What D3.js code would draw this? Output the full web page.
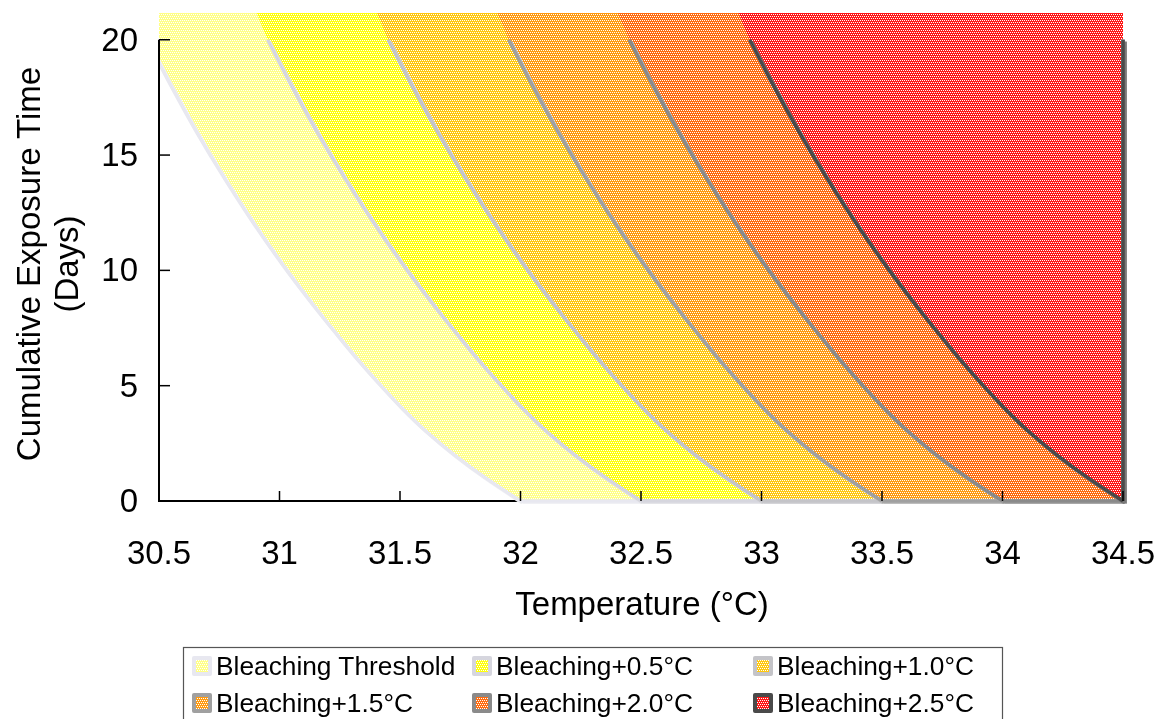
<!DOCTYPE html>
<html>
<head>
<meta charset="utf-8">
<script src="https://cdn.jsdelivr.net/npm/d3@7"></script>
<style>
  html, body { margin: 0; padding: 0; background: #ffffff; }
  #wrap { position: relative; width: 1157px; height: 719px; }
  #wrap canvas, #wrap svg { position: absolute; left: 0; top: 0; display: block; }
  text { font-family: "Liberation Sans", Arial, sans-serif; fill: #000; }
</style>
</head>
<body>
<div id="wrap">
  <canvas id="fills" width="1157" height="719"></canvas>
  <svg id="chart" width="1157" height="719"></svg>
</div>
<script>
// Cumulative exposure (days) at which each curve's temperature is read
const days = [0, 1, 2, 3, 4, 5, 6, 7, 8, 9, 10, 12, 14, 16, 18, 20, 21.16];

// Temperature (°C) of each bleaching curve at the exposure times above
const tempThreshold = [32.0, 31.855, 31.725, 31.61, 31.51, 31.42, 31.335, 31.255, 31.177, 31.102, 31.03, 30.895, 30.771, 30.656, 30.55, 30.451, 30.405];
const tempPlus05   = [32.5, 32.355, 32.225, 32.11, 32.01, 31.92, 31.835, 31.755, 31.677, 31.602, 31.53, 31.395, 31.271, 31.156, 31.05, 30.951, 30.905];
const tempPlus10   = [33.0, 32.855, 32.725, 32.61, 32.51, 32.42, 32.335, 32.255, 32.177, 32.102, 32.03, 31.895, 31.771, 31.656, 31.55, 31.451, 31.405];
const tempPlus15   = [33.5, 33.355, 33.225, 33.11, 33.01, 32.92, 32.835, 32.755, 32.677, 32.602, 32.53, 32.395, 32.271, 32.156, 32.05, 31.951, 31.905];
const tempPlus20   = [34.0, 33.855, 33.725, 33.61, 33.51, 33.42, 33.335, 33.255, 33.177, 33.102, 33.03, 32.895, 32.771, 32.656, 32.55, 32.451, 32.405];
const tempPlus25   = [34.5, 34.355, 34.225, 34.11, 34.01, 33.92, 33.835, 33.755, 33.677, 33.602, 33.53, 33.395, 33.271, 33.156, 33.05, 32.951, 32.905];

const seriesNames = ["Bleaching Threshold", "Bleaching+0.5°C", "Bleaching+1.0°C",
                     "Bleaching+1.5°C", "Bleaching+2.0°C", "Bleaching+2.5°C"];
const seriesTemps = [tempThreshold, tempPlus05, tempPlus10, tempPlus15, tempPlus20, tempPlus25];

const xTicks = [30.5, 31, 31.5, 32, 32.5, 33, 33.5, 34, 34.5];
const yTicks = [0, 5, 10, 15, 20];
const xTickLabels = ["30.5", "31", "31.5", "32", "32.5", "33", "33.5", "34", "34.5"];

// Styling
const fillColors = ["#ffff88", "#ffff10", "#ffc810", "#ff9a10", "#ff6c10", "#ff1818"];
const lineColors = ["#e8e8f0", "#d6d6de", "#c4c4c8", "#a0a0a0", "#8a8a8a", "#4a4a4a"];
const shadowColors = ["#f0f0f4", "#e4e4e8", "#d4d4d8", "#bdbdbd", "#a8a8a8", "#7a7a7a"];

const svg = d3.select("#chart");
const ctx = document.getElementById("fills").getContext("2d");

const plot = { left: 159, right: 1123, top: 13, bottom: 501 };
const xMin = 30.5, xMax = 34.5, yMax = 20, yTop = 21.16;

const x = d3.scaleLinear().domain([xMin, xMax]).range([plot.left, plot.right]);
const y = d3.scaleLinear().domain([0, yTop]).range([plot.bottom, plot.top]);

// Dotted fill patterns: coloured 4x4 tile with a white dot lattice
const whiteCells = [[0, 0], [2, 0], [1, 2], [3, 2]];
const patterns = fillColors.map(c => {
  const tile = document.createElement("canvas");
  tile.width = 4; tile.height = 4;
  const t = tile.getContext("2d");
  t.fillStyle = c;
  t.fillRect(0, 0, 4, 4);
  t.fillStyle = "#ffffff";
  whiteCells.forEach(([px, py]) => t.fillRect(px, py, 1, 1));
  return ctx.createPattern(tile, "repeat");
});

const series = seriesTemps.map((temps, i) => ({
  name: seriesNames[i],
  index: i,
  pts: days.map((d, j) => ({ day: d, temp: temps[j] }))
}));

// Filled bands on the canvas: from each curve to the right edge, layered in order
const area = d3.area()
  .y(d => y(d.day))
  .x0(d => x(d.temp))
  .x1(() => x(xMax))
  .curve(d3.curveMonotoneY)
  .context(ctx);

ctx.save();
ctx.beginPath();
ctx.rect(plot.left, plot.top, plot.right - plot.left, plot.bottom - plot.top);
ctx.clip();
series.forEach(s => {
  ctx.beginPath();
  area(s.pts);
  ctx.fillStyle = patterns[s.index];
  ctx.fill();
});
ctx.restore();

// Legend swatches on the canvas: border colour of the series around its fill
const colX = [192, 472, 753];
const rowY = [666, 703];
series.forEach((s, i) => {
  const cx = colX[i % 3], cy = rowY[Math.floor(i / 3)];
  ctx.fillStyle = lineColors[i];
  ctx.beginPath();
  if (ctx.roundRect) ctx.roundRect(cx, cy - 10, 20, 20, 2); else ctx.rect(cx, cy - 10, 20, 20);
  ctx.fill();
  ctx.fillStyle = patterns[i];
  ctx.fillRect(cx + 4, cy - 6, 12, 12);
});

// SVG overlay: clip for the series borders
svg.append("defs").append("clipPath").attr("id", "plotClip")
  .append("rect")
  .attr("x", plot.left).attr("y", plot.top)
  .attr("width", plot.right - plot.left + 4).attr("height", plot.bottom - plot.top + 3);

// Bottom axis baseline
svg.append("line")
  .attr("x1", x(xMin)).attr("x2", x(xMax))
  .attr("y1", y(0)).attr("y2", y(0))
  .attr("stroke", "#000").attr("stroke-width", 2);

const gPlot = svg.append("g").attr("clip-path", "url(#plotClip)");

// Series borders: curve, baseline run and right edge, each with a soft shadow
const curveLine = d3.line()
  .x(d => x(d.temp)).y(d => y(d.day))
  .curve(d3.curveMonotoneY);
const edgeLine = d3.line().x(d => x(d[0])).y(d => y(d[1]));

series.forEach(s => {
  const inRange = s.pts.filter(p => p.day <= yMax);
  const edge = [[s.pts[0].temp, 0], [xMax, 0], [xMax, yMax]];
  const g = gPlot.append("g");
  [[2, 2, shadowColors[s.index]], [0, 0, lineColors[s.index]]].forEach(([dx, dy, col]) => {
    const gg = g.append("g").attr("transform", `translate(${dx},${dy})`);
    gg.append("path").attr("d", curveLine(inRange))
      .attr("fill", "none").attr("stroke", col).attr("stroke-width", 3.5);
    gg.append("path").attr("d", edgeLine(edge))
      .attr("fill", "none").attr("stroke", col).attr("stroke-width", 3.5);
  });
});

// Left axis line up to 20 days
svg.append("line")
  .attr("x1", x(xMin)).attr("x2", x(xMin))
  .attr("y1", y(0) + 1).attr("y2", y(yMax))
  .attr("stroke", "#000").attr("stroke-width", 2);

// Inward tick marks
svg.append("g").selectAll("line").data(xTicks).join("line")
  .attr("x1", d => x(d)).attr("x2", d => x(d))
  .attr("y1", y(0)).attr("y2", y(0) - 10)
  .attr("stroke", "#000").attr("stroke-width", 1.5);
svg.append("g").selectAll("line").data(yTicks).join("line")
  .attr("x1", x(xMin)).attr("x2", x(xMin) + 11)
  .attr("y1", d => y(d)).attr("y2", d => y(d))
  .attr("stroke", "#000").attr("stroke-width", 1.5);

// Tick labels
svg.append("g").selectAll("text").data(xTicks).join("text")
  .attr("x", d => x(d)).attr("y", y(0) + 63)
  .attr("text-anchor", "middle").attr("font-size", 33)
  .text((d, i) => xTickLabels[i]);
svg.append("g").selectAll("text").data(yTicks).join("text")
  .attr("x", 138).attr("y", d => y(d) + 11)
  .attr("text-anchor", "end").attr("font-size", 33)
  .text(d => d);

// Axis titles
svg.append("text")
  .attr("x", 642).attr("y", 615)
  .attr("text-anchor", "middle").attr("font-size", 33)
  .text("Temperature (°C)");
const yTitle = svg.append("text")
  .attr("transform", "translate(0,264) rotate(-90)")
  .attr("text-anchor", "middle").attr("font-size", 33);
yTitle.append("tspan").attr("x", 0).attr("y", 40).text("Cumulative Exposure Time");
yTitle.append("tspan").attr("x", 0).attr("y", 78).text("(Days)");

// Legend frame and labels
const legend = svg.append("g");
legend.append("rect")
  .attr("x", 183.5).attr("y", 647.5).attr("width", 819).attr("height", 80)
  .attr("fill", "none").attr("stroke", "#555").attr("stroke-width", 1.2);
series.forEach((s, i) => {
  const cx = colX[i % 3], cy = rowY[Math.floor(i / 3)];
  legend.append("text").attr("x", cx + 24).attr("y", cy + 9)
    .attr("font-size", 26.3).text(s.name);
});
</script>
</body>
</html>
